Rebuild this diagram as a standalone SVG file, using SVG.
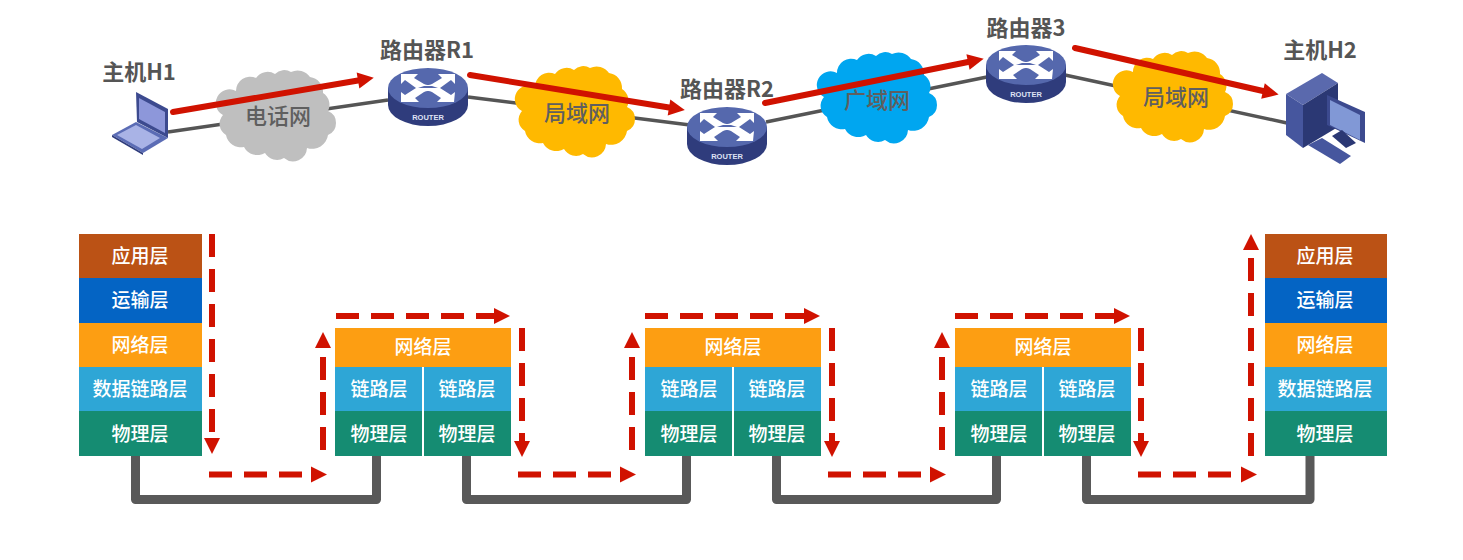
<svg xmlns="http://www.w3.org/2000/svg" xmlns:xlink="http://www.w3.org/1999/xlink" width="1463" height="560" viewBox="0 0 1463 560">
<style>
text{font-family:"Noto Sans CJK SC","Liberation Sans",sans-serif;text-anchor:middle}
.lab{font-size:22px;font-weight:700;fill:#555}
.cl{font-size:22px;font-weight:500;fill:#5f5f5f}
.ly{font-size:19px;font-weight:500;fill:#fff}
.rt{font-size:7.5px;font-weight:700;fill:#dfe3f5;font-family:"Liberation Sans",sans-serif}
.wire{fill:none;stroke:#555;stroke-width:3.5}
.red{fill:none;stroke:#d01200;stroke-width:6;stroke-linecap:round;marker-end:url(#ah)}
.dash{fill:none;stroke:#d01200;stroke-width:6;stroke-dasharray:23 12;marker-end:url(#ah)}
.bus{fill:none;stroke:#595959;stroke-width:9;stroke-linejoin:round}
.o{fill:#fd9e12}.b{fill:#2ea6d6}.t{fill:#158c72}.br{fill:#bb5215}.bl{fill:#0464c4}
</style>
<defs>
<marker id="ah" markerUnits="userSpaceOnUse" markerWidth="18" markerHeight="18" refX="1" refY="9" orient="auto">
<path d="M1,1 L17,9 L1,17 Z" fill="#d01200"/>
</marker>
<path id="cloud" d="M-42,-24 A14,14 0 0 1 -22,-37 A14,14 0 0 1 -3,-41 A13,13 0 0 1 13,-43 A15,15 0 0 1 32,-38 A15,15 0 0 1 45,-22 A14,14 0 0 1 50,-4 A13,13 0 0 1 50,20 A16,16 0 0 1 29,33 A14,14 0 0 1 6,43 A14,14 0 0 1 -13,38 A15,15 0 0 1 -34,32 A15,15 0 0 1 -52,20 A13,13 0 0 1 -55,0 A13,13 0 0 1 -42,-24 Z"/>
<g id="router">
<path d="M0,20 V37 A40,21 0 0 0 80,37 V20 Z" fill="#2f3c7c"/>
<ellipse cx="40" cy="20" rx="40" ry="20" fill="#5568ad"/>
<g fill="#fff">
<path d="M13,6 L30,6 L26,10 L36,16 Q40,18 44,16 L54,10 L50,6 L67,6 L67,16 L63,12 L52,20 L63,27 L67,24 L66,34 L49,34 L53,30 L44,24 Q40,22 36,24 L27,30 L31,34 L13,34 L13,24 L17,27 L28,20 L17,12 L13,16 Z" fill="#fff"/>
<path d="M33,12 L47,12 L40,17 Z M33,28 L47,28 L40,23 Z M30,20 L36,20 L40,20 L50,20 L44,18 L36,18 Z" fill="#5568ad"/>
</g>
<text class="rt" x="40" y="52">ROUTER</text>
</g>
</defs>
<rect width="1463" height="560" fill="#fff"/>

<g id="connectors">
<path class="wire" d="M168,132 L388,100"/>
<path class="wire" d="M468,97 L690,125"/>
<path class="wire" d="M766,122 L987,77"/>
<path class="wire" d="M1065,75 L1287,123"/>
<path class="bus" d="M135.500,456 V499.500 H376.500 V456"/>
<path class="bus" d="M466.500,456 V499.500 H686.500 V456"/>
<path class="bus" d="M776.500,456 V499.500 H996.500 V456"/>
<path class="bus" d="M1086.500,456 V499.500 H1310 V456"/>
</g>

<g id="cloud-phone"><use href="#cloud" xlink:href="#cloud" transform="translate(278,115)" fill="#bfbfbf"/><text class="cl" x="278" y="124">电话网</text></g>
<g id="cloud-lan1"><use href="#cloud" xlink:href="#cloud" transform="translate(577,111)" fill="#ffb900"/><text class="cl" x="577" y="121">局域网</text></g>
<g id="cloud-wan"><use href="#cloud" xlink:href="#cloud" transform="translate(879,97)" fill="#00a6f0"/><text class="cl" x="877" y="108">广域网</text></g>
<g id="cloud-lan2"><use href="#cloud" xlink:href="#cloud" transform="translate(1175,96)" fill="#ffb900"/><text class="cl" x="1176" y="105">局域网</text></g>

<g id="host-h1">
<text class="lab" x="139" y="80">主机H1</text>
<path d="M112,135 L136,122 L168,138 L143,153 Z" fill="#5b6cb5"/>
<path d="M112,135 L143,153 L143,155 L112,137 Z" fill="#2f3c7c"/>
<path d="M117,135 L136,125 L160,138 L142,149 Z" fill="#a9b3e6"/>
<path d="M136,92 L168,109 L168,138 L137,122 Z" fill="#3c4a8f"/>
<path d="M139,98 L165,112 L165,133 L139,119 Z" fill="#8d97da"/>
</g>

<g id="router-r1"><text class="lab" x="427" y="58">路由器R1</text><use href="#router" xlink:href="#router" x="388" y="68"/></g>
<g id="router-r2"><text class="lab" x="727" y="97">路由器R2</text><use href="#router" xlink:href="#router" x="687" y="107"/></g>
<g id="router-r3"><text class="lab" x="1026" y="36">路由器3</text><use href="#router" xlink:href="#router" x="986" y="45"/></g>

<g id="host-h2">
<text class="lab" x="1320" y="58">主机H2</text>
<path d="M1286,94 L1322,73 L1338,83 L1303,105 Z" fill="#5a69ad"/>
<path d="M1286,94 L1303,105 L1303,148 L1286,135 Z" fill="#46569e"/>
<path d="M1303,105 L1338,83 L1338,127 L1303,148 Z" fill="#2b3874"/>
<path d="M1327,95 L1365,112 L1365,143 L1327,125 Z" fill="#3c4a8f"/>
<path d="M1330,100 L1360,115 L1360,140 L1330,125 Z" fill="#8198d6"/>
<path d="M1332,136 L1342,130 L1356,143 L1346,148 Z" fill="#2b3874"/>
<path d="M1308,145 L1322,138 L1351,156 L1340,164 Z" fill="#46569e"/>
</g>

<g id="stack-h1">
<rect class="br" x="79" y="234" width="123" height="44"/><rect class="bl" x="79" y="278" width="123" height="45"/><rect class="o" x="79" y="323" width="123" height="44"/><rect class="b" x="79" y="367" width="123" height="44"/><rect class="t" x="79" y="411" width="123" height="45"/>
<text class="ly" x="140" y="263">应用层</text><text class="ly" x="140" y="307">运输层</text><text class="ly" x="140" y="352">网络层</text><text class="ly" x="140" y="396">数据链路层</text><text class="ly" x="140" y="441">物理层</text>
</g>

<g id="stack-r1">
<rect class="o" x="335" y="328" width="176" height="39"/><rect class="b" x="335" y="367" width="87" height="44"/><rect class="b" x="424" y="367" width="87" height="44"/><rect class="t" x="335" y="411" width="87" height="45"/><rect class="t" x="424" y="411" width="87" height="45"/>
<text class="ly" x="423" y="354">网络层</text><text class="ly" x="379" y="396">链路层</text><text class="ly" x="467" y="396">链路层</text><text class="ly" x="379" y="441">物理层</text><text class="ly" x="467" y="441">物理层</text>
</g>
<g id="stack-r2" transform="translate(310,0)">
<rect class="o" x="335" y="328" width="176" height="39"/><rect class="b" x="335" y="367" width="87" height="44"/><rect class="b" x="424" y="367" width="87" height="44"/><rect class="t" x="335" y="411" width="87" height="45"/><rect class="t" x="424" y="411" width="87" height="45"/>
<text class="ly" x="423" y="354">网络层</text><text class="ly" x="379" y="396">链路层</text><text class="ly" x="467" y="396">链路层</text><text class="ly" x="379" y="441">物理层</text><text class="ly" x="467" y="441">物理层</text>
</g>
<g id="stack-r3" transform="translate(620,0)">
<rect class="o" x="335" y="328" width="176" height="39"/><rect class="b" x="335" y="367" width="87" height="44"/><rect class="b" x="424" y="367" width="87" height="44"/><rect class="t" x="335" y="411" width="87" height="45"/><rect class="t" x="424" y="411" width="87" height="45"/>
<text class="ly" x="423" y="354">网络层</text><text class="ly" x="379" y="396">链路层</text><text class="ly" x="467" y="396">链路层</text><text class="ly" x="379" y="441">物理层</text><text class="ly" x="467" y="441">物理层</text>
</g>

<g id="stack-h2">
<rect class="br" x="1265" y="234" width="122" height="44"/><rect class="bl" x="1265" y="278" width="122" height="45"/><rect class="o" x="1265" y="323" width="122" height="44"/><rect class="b" x="1265" y="367" width="122" height="44"/><rect class="t" x="1265" y="411" width="122" height="45"/>
<text class="ly" x="1325" y="263">应用层</text><text class="ly" x="1325" y="307">运输层</text><text class="ly" x="1325" y="352">网络层</text><text class="ly" x="1325" y="396">数据链路层</text><text class="ly" x="1325" y="441">物理层</text>
</g>

<g id="flow-arrows">
<path class="red" d="M173,112 L358,80.500"/>
<path class="red" d="M470,75 L669,107.500"/>
<path class="red" d="M765,103 L968,62"/>
<path class="red" d="M1075,48 L1263,91"/>
<path class="dash" d="M212,234 V438"/>
<path class="dash" d="M209,474.500 H311"/>
<path class="dash" d="M323,450 V348"/>
<path class="dash" d="M336,316 H494"/>
<path class="dash" d="M522,328 V441"/>
<path class="dash" d="M518,474.500 H620"/>
<path class="dash" d="M632,450 V348"/>
<path class="dash" d="M645,316 H804"/>
<path class="dash" d="M832,328 V441"/>
<path class="dash" d="M828,474.500 H930"/>
<path class="dash" d="M942,450 V348"/>
<path class="dash" d="M955,316 H1114"/>
<path class="dash" d="M1141,328 V441"/>
<path class="dash" d="M1138,474.500 H1241"/>
<path class="dash" d="M1251,456 V250"/>
</g>
</svg>
